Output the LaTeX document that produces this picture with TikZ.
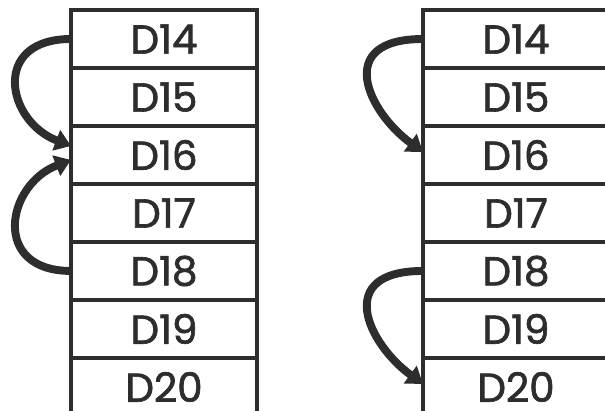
\documentclass[tikz,border=0pt]{standalone}
\usepackage{fontspec}
\setmainfont{Poppins}[BoldFont=Poppins, BoldFeatures={FakeBold=1.6}]
\usepackage{tikz}
\usetikzlibrary{positioning,calc,arrows.meta}
\definecolor{inkgray}{RGB}{45,45,45}

\begin{document}
\begin{tikzpicture}[x=0.02cm, y=-0.02cm, every node/.style={font=\fontsize{23}{27}\selectfont\bfseries, text=inkgray}]
  \tikzstyle{cell}=[draw=inkgray, line width=1.8pt, minimum width=3.72cm, minimum height=1.16cm, outer sep=0pt, inner sep=0pt]
  \tikzstyle{hop}=[draw=inkgray, line width=4.5pt, -{Triangle[length=9pt,width=12pt]}]
  \clip (0,0) rectangle (605,410);
  \fill[white] (0,0) rectangle (605,410);
  % left column
  \node[cell, anchor=north west] (l14) at (71,10) {D14};
  \node[cell, below=0pt of l14] (l15) {D15};
  \node[cell, below=0pt of l15] (l16) {D16};
  \node[cell, below=0pt of l16] (l17) {D17};
  \node[cell, below=0pt of l17] (l18) {D18};
  \node[cell, below=0pt of l18] (l19) {D19};
  \node[cell, below=0pt of l19] (l20) {D20};
  % right column
  \node[cell, anchor=north west] (r14) at (423,10) {D14};
  \node[cell, below=0pt of r14] (r15) {D15};
  \node[cell, below=0pt of r15] (r16) {D16};
  \node[cell, below=0pt of r16] (r17) {D17};
  \node[cell, below=0pt of r17] (r18) {D18};
  \node[cell, below=0pt of r18] (r19) {D19};
  \node[cell, below=0pt of r19] (r20) {D20};
  % jumps on the left
  \draw[hop] (l14.west) .. controls +(-80,0) and +(-65,-25) .. ($(l16.west)+(0,-9)$);
  \draw[hop] (l18.west) .. controls +(-80,0) and +(-65,25) .. ($(l16.west)+(0,5)$);
  % jumps on the right
  \draw[hop] (r14.west) .. controls +(-90,0) and +(-55,-40) .. ($(r16.west)+(0,-3)$);
  \draw[hop] (r18.west) .. controls +(-90,0) and +(-55,-40) .. ($(r20.west)+(0,-3)$);
\end{tikzpicture}
\end{document}
